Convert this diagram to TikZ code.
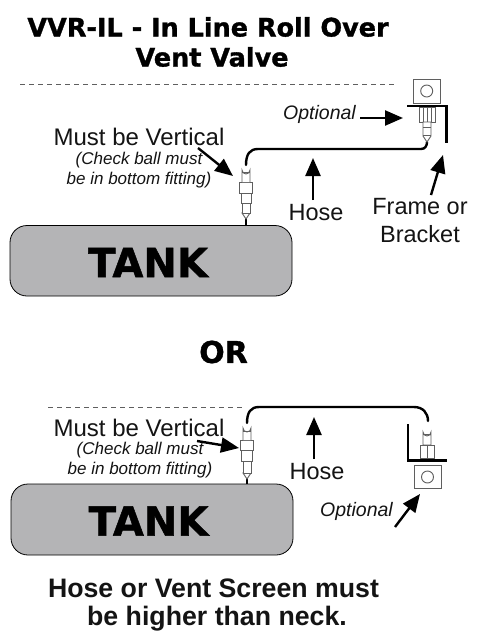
\documentclass[tikz,border=0pt]{standalone}
\usepackage{fontspec}
\setmainfont{Liberation Sans}
\newfontfamily\heavy{DejaVu Sans Bold}[FakeBold=1.2]
\usetikzlibrary{arrows.meta}
\definecolor{tankgray}{RGB}{180,180,182}
\definecolor{inkc}{RGB}{20,20,20}
\definecolor{fitc}{RGB}{95,95,95}
\tikzset{
  x=1pt,y=-1pt,
  title/.style={font=\heavy\fontsize{25.5}{28}\selectfont,align=center,text=black,inner sep=0},
  tanklabel/.style={font=\heavy\fontsize{40}{44}\selectfont,text=black,inner sep=0},
  footer/.style={font=\bfseries\fontsize{26.7}{31}\selectfont,text=inkc,inner sep=0},
  label/.style={font=\fontsize{23.5}{28}\selectfont,align=center,text=inkc,inner sep=0},
  vertlabel/.style={font=\fontsize{24}{28}\selectfont,text=inkc,inner sep=0},
  note/.style={font=\itshape\fontsize{17}{20}\selectfont,align=center,text=inkc,inner sep=0},
  opt/.style={font=\itshape\fontsize{19.5}{22}\selectfont,text=inkc,inner sep=0},
  tank/.style={draw=black,line width=0.8pt,fill=tankgray,rounded corners=17},
  dash line/.style={draw=fitc,line width=0.7pt,dash pattern=on 5pt off 4pt},
  hose/.style={draw=black,line width=2.4pt,line cap=round},
  bracket/.style={draw=black,line width=2.2pt},
  fit/.style={draw=fitc,line width=0.9pt,fill=white},
  fitline/.style={draw=fitc,line width=0.9pt},
  callout/.style={draw=black,line width=2.4pt,-{Triangle[length=18pt,width=15pt]}},
}
\begin{document}
\begin{tikzpicture}
\useasboundingbox (0,0) rectangle (480,640);
\fill[white] (0,0) rectangle (480,640);
\node[title] (t1) at (208,27) {VVR-IL - In Line Roll Over};
\node[title] (t2) at (212,57) {Vent Valve};
\draw[dash line] (20,84) -- (396,84);
\draw[dash line] (48,407) -- (245,407);

% top tank
\draw[tank] (10,225.5) rectangle (292,296);
\node[tanklabel] (tank1) at (148,262.5) {TANK};
\coordinate (neck1) at (246,226);
\coordinate (tip1) at (246,218);
\draw[black,line width=1.6pt] (neck1) -- (tip1);
\draw[fit] (242,213) -- (246,219) -- (250,213) -- cycle;
\draw[fit] (242,203) rectangle (250,213);
\draw[fit] (241,193) rectangle (251,203);
\draw[fit] (239.5,182) rectangle (252.5,193);
\draw[fit] (242,182) -- (242,170) arc (180:0:4) -- (250,182);
\draw[fit] (242,172) -- (250,172);
\draw[hose] (246,165) .. controls (246,154) and (250,149) .. (258,149) -- (421,149) .. controls (425,149) and (427,146) .. (427,142);
% top right
\draw[fit] (413,79) rectangle (440,103);
\draw[fit] (426.7,91) circle (6);
\draw[fit] (419,107) rectangle (435,122);
\draw[fitline] (423,107) -- (423,122) (427,107) -- (427,122) (431,107) -- (431,122);
\draw[fit] (423,122) -- (423,136) -- (427,142) -- (431,136) -- (431,122) -- cycle;
\draw[fitline] (423,127) -- (431,127) (423,135) -- (431,135);
\draw[bracket] (407,106) -- (446.5,106) -- (446.5,143);

\node[vertlabel] (mv1) at (139,137) {Must be Vertical};
\node[note] (cb1) at (139,170) {(Check ball must\\be in bottom fitting)};
\node[opt,anchor=east] (op1) at (356,114) {Optional};
\coordinate (oa1) at (360,118); \coordinate (oa2) at (403,118);
\draw[callout] (oa1) -- (oa2);
\node[label] (hose1) at (316,213) {Hose};
\draw[callout] (313,200) -- (313,158);
\node[label] (fb) at (420,221) {Frame or\\Bracket};
\draw[callout] (431,195) -- (443,155);
\draw[callout] (198,148) -- (233,176);

\node[font=\heavy\fontsize{30}{33}\selectfont,text=black,inner sep=0] (or) at (223.5,352) {OR};

% bottom tank
\draw[tank] (11,484) rectangle (293,555);
\node[tanklabel] (tank2) at (148.5,521) {TANK};
\draw[black,line width=1.6pt] (247,484) -- (247,477);
\draw[fit] (243,473) -- (247,479) -- (251,473) -- cycle;
\draw[fit] (243,461) rectangle (251,473);
\draw[fit] (241.5,450) rectangle (252.5,461);
\draw[fit] (240.5,440) rectangle (253.5,450);
\draw[fit] (243,440) -- (243,428) arc (180:0:4) -- (251,440);
\draw[fit] (243,431) -- (251,431);
\draw[hose] (247,423) .. controls (247,412) and (251,407) .. (259,407) -- (414,407) .. controls (423,407) and (428,413) .. (428,421);
\draw[fit] (423,445) -- (423,432) arc (180:0:4) -- (431,445) -- cycle;
\draw[fitline] (423,434) -- (431,434);
\draw[fit] (420,445) rectangle (434,458);
\draw[fitline] (427,445) -- (427,458);
\draw[bracket] (408,424) -- (408,460.5) -- (447,460.5);
\draw[fit] (414,465) rectangle (441,488);
\draw[fit] (427.5,477) circle (6);

\node[vertlabel] (mv2) at (139,428) {Must be Vertical};
\node[note] (cb2) at (140,460) {(Check ball must\\be in bottom fitting)};
\node[label] (hose2) at (317,472) {Hose};
\draw[callout] (314,459) -- (314,417);
\node[opt,anchor=east] (op2) at (393,511) {Optional};
\draw[callout] (395,527) -- (420,494);
\draw[callout] (197,441) -- (239,448);

\node[footer] (foot1) at (213.5,588) {Hose or Vent Screen must};
\node[footer] (foot2) at (217,619) {be higher than neck.};
\end{tikzpicture}
\end{document}
